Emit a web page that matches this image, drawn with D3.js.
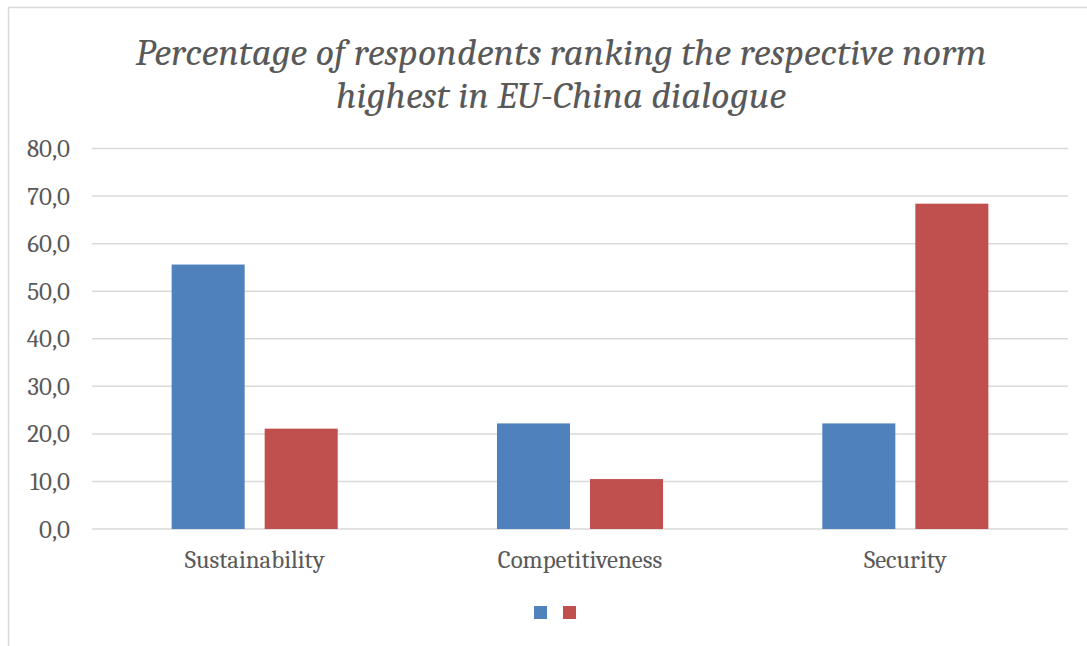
<!DOCTYPE html>
<html><head><meta charset="utf-8">
<script src="https://cdn.jsdelivr.net/npm/d3@7"></script>
<style>body{margin:0;background:#fff;} svg{display:block;}</style>
</head><body>
<svg id="c" width="1087" height="646"></svg>
<script>
const categories = ["Sustainability", "Competitiveness", "Security"];
const seriesNames = ["Series1", "Series2"];
const series1 = [55.6, 22.2, 22.2];
const series2 = [21.1, 10.5, 68.4];
const yTicks = [0, 10, 20, 30, 40, 50, 60, 70, 80];
const titleLines = ["Percentage of respondents ranking the respective norm", "highest in EU-China dialogue"];
const colors = ["#4f81bd", "#c0504d"];

(function () {
const svg = d3.select("#c");
const fontSerif = "Cambria, 'Liberation Serif', 'DejaVu Serif', serif";

svg.append("rect").attr("x", 8.5).attr("y", 7.5).attr("width", 1200).attr("height", 800)
  .attr("fill", "#fff").attr("stroke", "#d9d9d9").attr("stroke-width", 1.5);

const pL = 92, pR = 1068, pT = 148.5, pB = 529;
const y = d3.scaleLinear().domain([0, 80]).range([pB, pT]);
const x0 = d3.scaleBand().domain(categories).range([pL, pR]).paddingInner(0).paddingOuter(0);

// gridlines
svg.append("g").selectAll("line").data(yTicks).join("line")
  .attr("x1", pL).attr("x2", pR)
  .attr("y1", d => y(d)).attr("y2", d => y(d))
  .attr("stroke", "#d9d9d9").attr("stroke-width", 1.5);

// y axis labels
const yAxis = d3.axisLeft(y).tickValues(yTicks).tickSize(0).tickPadding(0)
  .tickFormat(d => d3.format(".1f")(d).replace(".", ","));
const ga = svg.append("g").attr("transform", `translate(${pL - 22},0)`).call(yAxis);
ga.select(".domain").remove();
ga.selectAll("text").attr("fill", "#595959").style("font-family", fontSerif).style("font-size", "25px");

// bars
const bw = x0.bandwidth() * 0.2245, gap = 20;
const data = categories.map((c, i) => ({c, vals: [series1[i], series2[i]]}));
const groups = svg.append("g").selectAll("g").data(data).join("g");
groups.selectAll("rect").data(d => d.vals.map((v, k) => ({c: d.c, v, k}))).join("rect")
  .attr("x", d => x0(d.c) + x0.bandwidth() / 2 + (d.k === 0 ? -gap / 2 - bw : gap / 2))
  .attr("width", bw)
  .attr("y", d => y(d.v))
  .attr("height", d => y(0) - y(d.v))
  .attr("fill", d => colors[d.k]);

// x axis labels
const xAxis = d3.axisBottom(x0).tickSize(0).tickPadding(0);
const gx = svg.append("g").attr("transform", `translate(0,${pB + 21})`).call(xAxis);
gx.select(".domain").remove();
gx.selectAll("text").attr("fill", "#595959").style("font-family", fontSerif).style("font-size", "24.8px");

// title
const title = svg.append("text").attr("text-anchor", "middle")
  .attr("fill", "#595959").style("font-family", fontSerif).style("font-style", "italic").style("font-size", "36px");
title.selectAll("tspan").data(titleLines).join("tspan")
  .attr("x", 561).attr("y", (d, i) => 65 + i * 43).text(d => d);
const t0 = title.select("tspan").node();
const w0 = t0.getComputedTextLength();
if (w0 > 0) title.style("font-size", (36 * 852 / w0).toFixed(1) + "px");

// legend
svg.append("g").selectAll("rect").data(seriesNames).join("rect")
  .attr("x", (d, i) => 534 + i * 29).attr("y", 606).attr("width", 13).attr("height", 13)
  .attr("fill", (d, i) => colors[i]);
})();
</script>
</body></html>
